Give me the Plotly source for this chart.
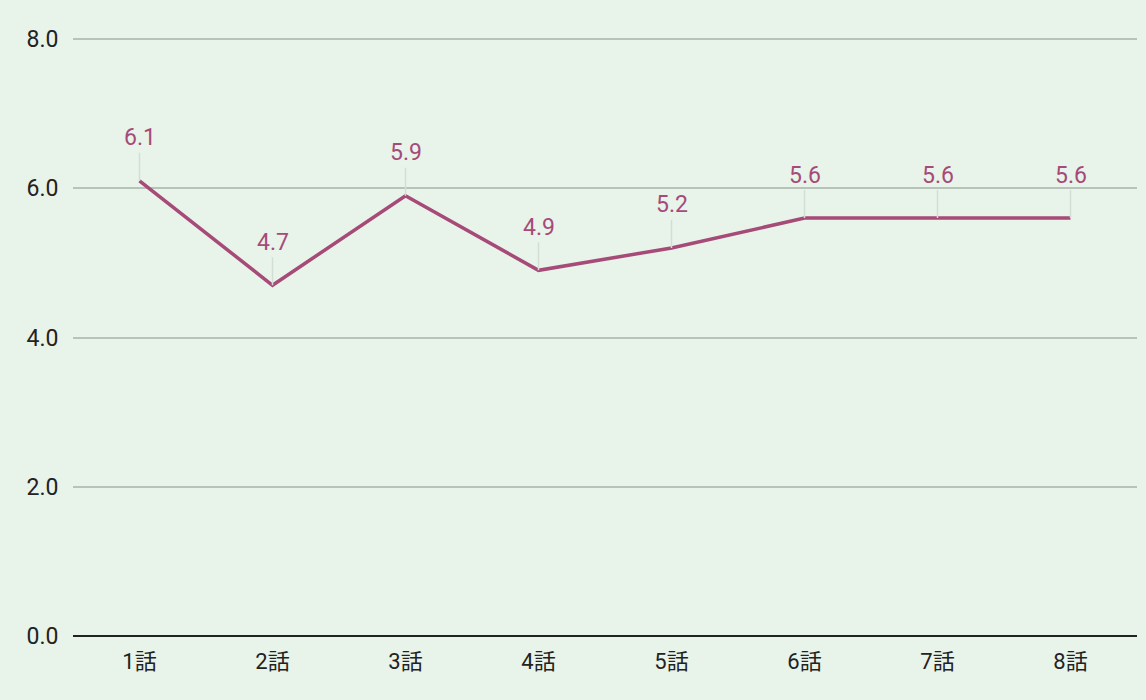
import plotly.graph_objects as go

episodes = ["1話", "2話", "3話", "4話", "5話", "6話", "7話", "8話"]
ratings = [6.1, 4.7, 5.9, 4.9, 5.2, 5.6, 5.6, 5.6]
y_ticks = [0, 2, 4, 6, 8]
y_tick_labels = ["0.0", "2.0", "4.0", "6.0", "8.0"]

LINE = "#a64a78"
BG = "#e8f3ea"
GRID = "#b7c2b8"
FONT = "Roboto, 'Noto Sans CJK JP', sans-serif"

fig = go.Figure()
fig.add_trace(go.Scatter(
    x=episodes, y=ratings, mode="lines",
    line=dict(color=LINE, width=3.5),
    hoverinfo="skip",
))

for e, v in zip(episodes, ratings):
    fig.add_annotation(
        x=e, y=v, text=f"{v:.1f}", showarrow=True,
        arrowhead=0, arrowwidth=1.5, arrowcolor="#d2ddd3",
        ax=0, ay=-43, standoff=0,
        font=dict(family=FONT, size=23, color=LINE),
    )

# top gridline (sits on the plot edge, drawn in paper coords so it is not clipped)
fig.add_shape(type="line", xref="paper", yref="paper", x0=0, x1=1, y0=1, y1=1,
              line=dict(color=GRID, width=2), layer="below")

fig.update_layout(
    width=1146, height=700,
    margin=dict(l=73, r=9, t=39, b=64),
    paper_bgcolor=BG, plot_bgcolor=BG,
    showlegend=False,
    font=dict(family=FONT, size=22, color="#222222"),
)
fig.update_xaxes(
    type="category", range=[-0.5, 7.5], showgrid=False,
    showline=False, zeroline=False,
    ticks="outside", ticklen=6, tickcolor="rgba(0,0,0,0)",
    tickfont=dict(family=FONT, size=22, color="#222222"),
)
fig.update_yaxes(
    range=[0, 8], tickvals=y_ticks, ticktext=y_tick_labels,
    showgrid=True, gridcolor=GRID, gridwidth=2,
    zeroline=True, zerolinecolor="#222222", zerolinewidth=2,
    showline=False,
    ticks="outside", ticklen=9, tickcolor="rgba(0,0,0,0)",
    tickfont=dict(family=FONT, size=23, color="#222222"),
)

fig.write_html("out.html")
